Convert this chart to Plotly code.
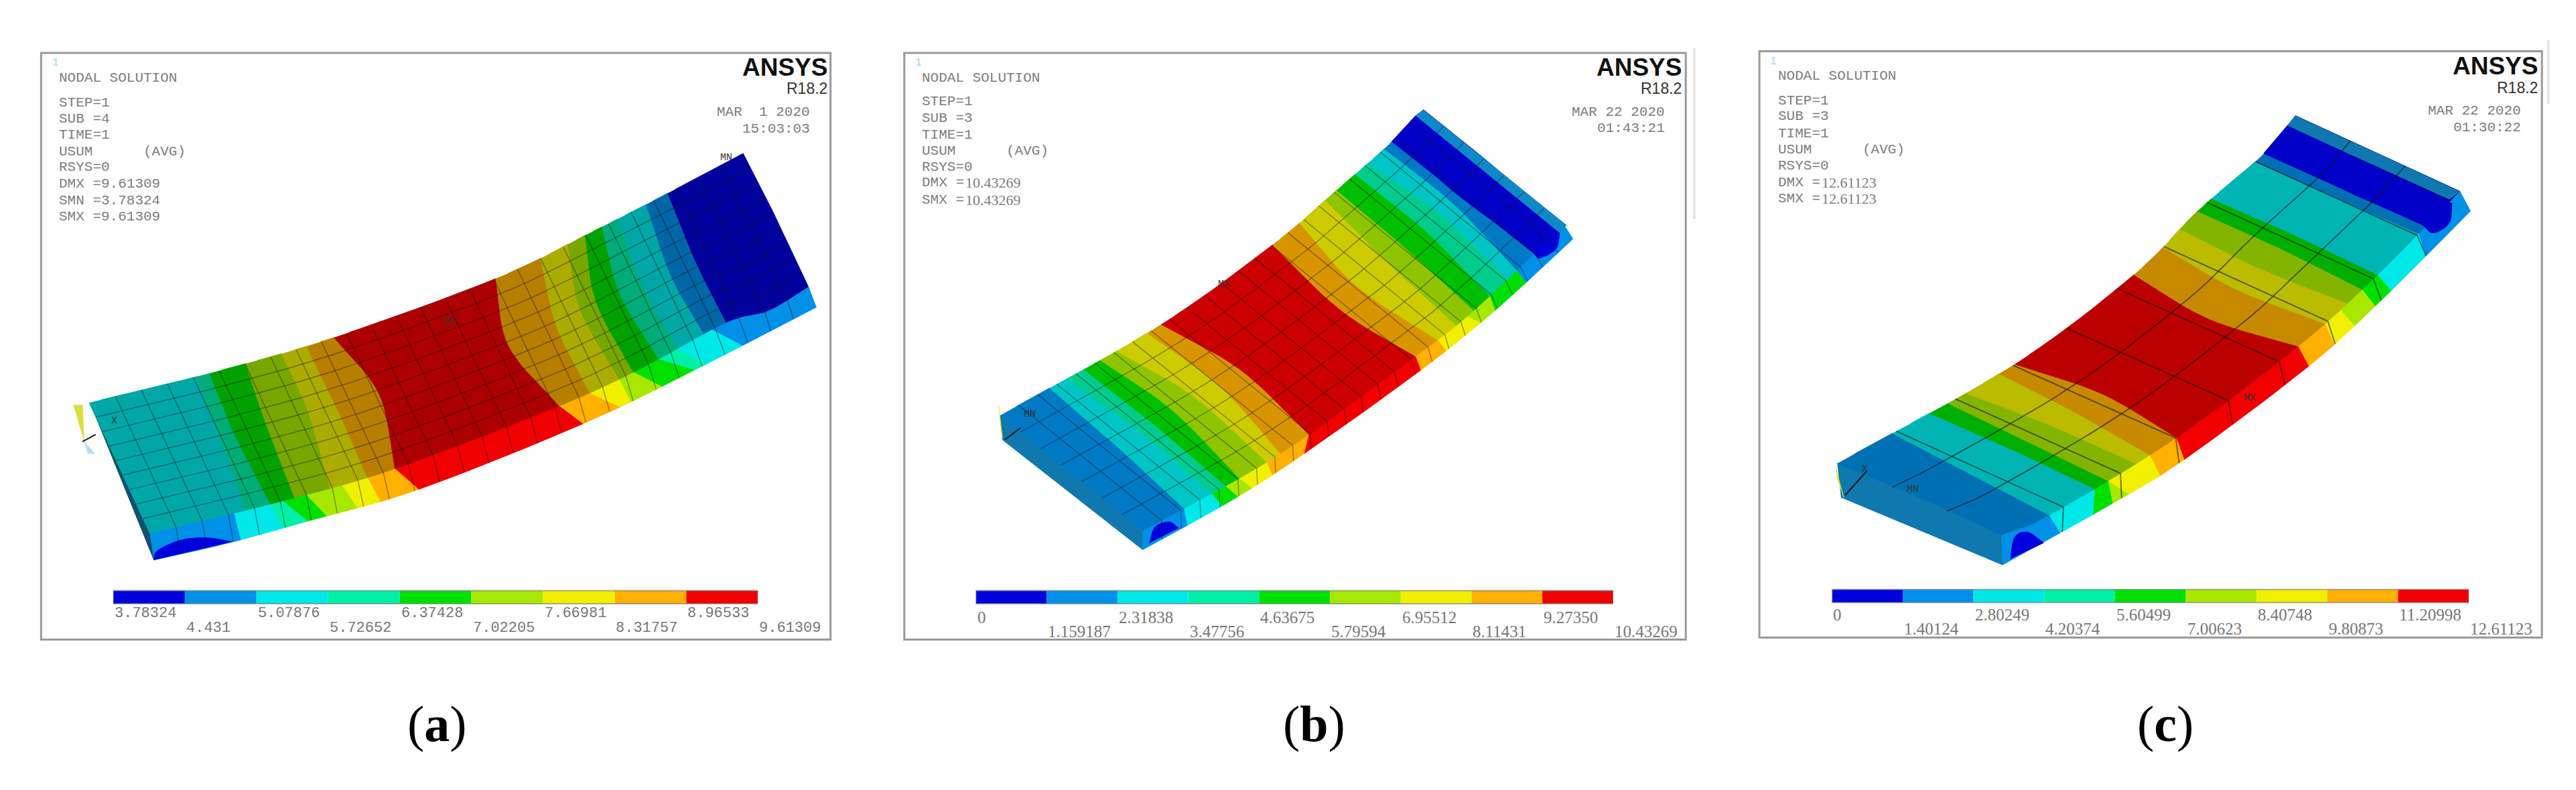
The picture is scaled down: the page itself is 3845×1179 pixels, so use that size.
import numpy as np
import plotly.graph_objects as go

# contour levels printed under each panel
A_LABELS = ['3.78324', '4.431', '5.07876', '5.72652', '6.37428', '7.02205', '7.66981', '8.31757', '8.96533', '9.61309']
B_LABELS = ['0', '1.159187', '2.31838', '3.47756', '4.63675', '5.79594', '6.95512', '8.11431', '9.27350', '10.43269']
C_LABELS = ['0', '1.40124', '2.80249', '4.20374', '5.60499', '7.00623', '8.40748', '9.80873', '11.20998', '12.61123']

A_INFO = ['NODAL SOLUTION', 'STEP=1', 'SUB =4', 'TIME=1', 'USUM      (AVG)', 'RSYS=0', 'DMX =9.61309', 'SMN =3.78324', 'SMX =9.61309']
B_INFO = ['NODAL SOLUTION', 'STEP=1', 'SUB =3', 'TIME=1', 'USUM      (AVG)', 'RSYS=0', 'DMX =10.43269', 'SMX =10.43269']
C_INFO = ['NODAL SOLUTION', 'STEP=1', 'SUB =3', 'TIME=1', 'USUM      (AVG)', 'RSYS=0', 'DMX =12.61123', 'SMX =12.61123']
A_DATE = ['MAR  1 2020', '15:03:03']
B_DATE = ['MAR 22 2020', '01:43:21']
C_DATE = ['MAR 22 2020', '01:30:22']

# beam outlines (crop coordinates, 1568 x 1568 per panel)
A_TOP_EDGE = [(118, 912), (345, 838), (580, 748), (885, 600), (1070, 480), (1210, 385), (1352, 285)]
A_LOW_EDGE = [(232, 1240), (460, 1167), (695, 1078), (1005, 920), (1160, 825), (1320, 710), (1400, 680), (1475, 620)]
A_OUT_EDGE = [(240, 1308), (390, 1262), (530, 1210), (740, 1130), (1050, 965), (1260, 830), (1490, 672)]
# contour borders on the upper face: upper edge, middle, lower edge
A_BORDERS = [
    [(118, 912), (175, 1075), (232, 1240)], [(320, 846), (365, 1000), (425, 1178)], [(350, 835), (390, 985), (460, 1167)],
    [(410, 815), (450, 960), (510, 1145)], [(490, 783), (530, 930), (570, 1125)], [(530, 768), (585, 925), (640, 1100)],
    [(580, 748), (665, 890), (695, 1078)], [(885, 600), (910, 770), (1005, 920)], [(975, 540), (1000, 720), (1065, 885)],
    [(1020, 512), (1045, 680), (1120, 855)], [(1045, 495), (1075, 660), (1150, 830)], [(1085, 470), (1120, 640), (1190, 800)],
    [(1120, 445), (1160, 610), (1230, 770)], [(1165, 415), (1215, 590), (1270, 745)], [(1212, 385), (1260, 550), (1320, 710)],
    [(1352, 285), (1415, 450), (1475, 620)],
]
A_BANDS = [2, 3, 4, 5, 6, 7, 8, 7, 6, 5, 4, 3, 2, 1, 0]
A_SIDE = [
    [(232, 1240), (240, 1308)], [(385, 1190), (400, 1258)], [(455, 1167), (490, 1225)], [(480, 1155), (530, 1210)],
    [(530, 1135), (565, 1195)], [(590, 1118), (620, 1175)], [(640, 1100), (670, 1150)], [(695, 1078), (740, 1130)],
    [(1005, 920), (1052, 965)], [(1060, 885), (1110, 930)], [(1115, 855), (1150, 905)], [(1150, 830), (1200, 868)],
    [(1190, 800), (1250, 835)], [(1225, 770), (1270, 820)], [(1290, 725), (1345, 770)], [(1475, 620), (1490, 672)],
]
A_SIDE_BANDS = [1, 2, 3, 4, 5, 6, 7, 8, 7, 6, 5, 4, 3, 2, 1]

B_TOP_EDGE = [(205, 945), (510, 715), (720, 515), (830, 390), (940, 262), (1005, 175)]
B_LOW_EDGE = [(475, 1235), (735, 1040), (990, 795), (1100, 680), (1270, 465)]
B_OUT_EDGE = [(475, 1282), (640, 1160), (780, 1040), (1000, 830), (1140, 680), (1287, 500)]
B_BORDERS = [
    [(205, 945), (340, 1090), (475, 1235)], [(298, 872), (425, 1020), (555, 1175)], [(340, 840), (470, 985), (600, 1140)],
    [(362, 818), (490, 960), (625, 1120)], [(395, 795), (530, 930), (660, 1092)], [(435, 770), (570, 895), (700, 1060)],
    [(470, 745), (620, 870), (735, 1040)], [(510, 715), (660, 830), (778, 1005)], [(720, 515), (850, 680), (990, 795)],
    [(770, 460), (880, 620), (1035, 755)], [(815, 408), (930, 550), (1070, 715)], [(838, 380), (960, 510), (1100, 680)],
    [(880, 330), (1005, 475), (1130, 640)], [(900, 305), (1040, 440), (1160, 605)], [(925, 275), (1060, 410), (1190, 570)],
    [(945, 255), (1075, 395), (1212, 535)], [(1005, 175), (1140, 320), (1270, 465)],
]
B_BANDS = [1, 2, 3, 4, 5, 6, 7, 8, 7, 6, 5, 4, 3, 2, 1, 0]
B_SIDE = [
    [(475, 1235), (475, 1282)], [(555, 1175), (562, 1222)], [(600, 1140), (625, 1188)], [(625, 1120), (655, 1150)],
    [(660, 1092), (680, 1130)], [(700, 1060), (725, 1095)], [(735, 1040), (745, 1075)], [(778, 1005), (780, 1040)],
    [(990, 795), (1000, 830)], [(1035, 755), (1045, 785)], [(1095, 690), (1110, 720)], [(1125, 650), (1140, 680)],
    [(1180, 575), (1195, 610)], [(1270, 465), (1287, 500)],
]
B_SIDE_BANDS = [1, 2, 4, 5, 6, 7, 7, 8, 7, 6, 5, 4, 1]

C_TOP_EDGE = [(180, 1065), (515, 815), (740, 590), (860, 430), (990, 280), (1045, 190)]
C_LOW_EDGE = [(490, 1245), (580, 1195), (820, 1000), (1050, 770), (1200, 590), (1355, 380)]
C_OUT_EDGE = [(492, 1320), (700, 1165), (835, 1055), (1070, 820), (1210, 650), (1375, 430)]
C_BORDERS = [
    [(180, 1065), (335, 1150), (490, 1245)], [(280, 990), (430, 1090), (575, 1190)], [(345, 945), (510, 1030), (650, 1130)],
    [(385, 915), (530, 1005), (678, 1095)], [(420, 880), (575, 965), (735, 1055)], [(470, 850), (620, 930), (765, 1040)],
    [(515, 815), (680, 890), (820, 1000)], [(740, 590), (880, 700), (1050, 770)], [(795, 515), (930, 625), (1100, 705)],
    [(830, 470), (970, 570), (1135, 660)], [(865, 430), (1010, 520), (1165, 620)], [(890, 400), (1035, 485), (1190, 590)],
    [(965, 300), (1130, 400), (1270, 490)], [(985, 285), (1150, 385), (1295, 465)], [(1045, 190), (1200, 285), (1355, 380)],
]
C_BANDS = [1, 2, 4, 5, 6, 7, 8, 7, 6, 5, 4, 2, 1, 0]
C_SIDE = [
    [(490, 1245), (492, 1320)], [(580, 1195), (600, 1245)], [(650, 1130), (670, 1185)], [(678, 1095), (700, 1165)],
    [(690, 1085), (720, 1140)], [(730, 1060), (770, 1105)], [(770, 1035), (780, 1090)], [(820, 1000), (832, 1055)],
    [(1050, 770), (1070, 820)], [(1100, 705), (1120, 755)], [(1130, 665), (1150, 720)], [(1165, 620), (1190, 670)],
    [(1190, 590), (1225, 635)], [(1270, 490), (1290, 540)], [(1355, 380), (1375, 430)],
]
C_SIDE_BANDS = [1, 2, 4, 5, 6, 6, 7, 8, 7, 6, 5, 4, 2, 1]

LEVEL_COLORS = ['#0000DC', '#0090E8', '#00E8E8', '#00F0A8', '#00E000', '#A8E800', '#F0F000', '#FFB000', '#F00000']


def shade(hexcol, f):
    r, g, b = [int(hexcol[i:i + 2], 16) for i in (1, 3, 5)]
    return f'rgb({int(r * f)},{int(g * f)},{int(b * f)})'


def smooth(pts, n=10):
    # Catmull-Rom through the read points, so outlines are not kinked
    p = np.array(pts, dtype=float)
    p = np.vstack([2 * p[0] - p[1], p, 2 * p[-1] - p[-2]])
    out = []
    for i in range(1, len(p) - 2):
        for t in np.linspace(0, 1, n, endpoint=False):
            out.append(0.5 * (2 * p[i] + (p[i + 1] - p[i - 1]) * t
                              + (2 * p[i - 1] - 5 * p[i] + 4 * p[i + 1] - p[i + 2]) * t ** 2
                              + (3 * p[i] - p[i - 1] - 3 * p[i + 1] + p[i + 2]) * t ** 3))
    out.append(p[-2])
    return [tuple(q) for q in out]


def snap(pt, edge):
    e = np.array(edge)
    return tuple(e[np.argmin(np.hypot(e[:, 0] - pt[0], e[:, 1] - pt[1]))])


def between(edge, p, q):
    # edge points that lie between the two ends of a band
    lo, hi = sorted((p[0], q[0]))
    return [e for e in edge if lo < e[0] < hi]


def along(edge, u):
    e = np.array(edge, dtype=float)
    d = np.r_[0, np.cumsum(np.hypot(*np.diff(e, axis=0).T))]
    d = d / d[-1]
    return np.interp(u, d, e[:, 0]), np.interp(u, d, e[:, 1])


fig = go.Figure()
W, H = 3845, 1179
CROP = 1568
annotations = []
shapes = []
layout_axes = {}


def poly(pts, color, xa, ya):
    fig.add_trace(go.Scatter(x=[p[0] for p in pts], y=[p[1] for p in pts], mode='lines', fill='toself',
                             fillcolor=color, line=dict(color=color, width=1), hoverinfo='skip', xaxis=xa, yaxis=ya))


def note(text, x, y, xa, ya, font, size, color, anchor='left'):
    annotations.append(dict(text=text, x=x, y=y, xref=xa, yref=ya, showarrow=False, xanchor=anchor, yanchor='middle',
                            font=dict(family=font, size=size, color=color)))


def panel(n, x0, cfg):
    xa, ya = ('x', 'y') if n == 0 else (f'x{n + 1}', f'y{n + 1}')
    xl = f'x{n + 4}'
    top, low, out = smooth(cfg['top']), smooth(cfg['low']), smooth(cfg['out'])
    layout_axes['xaxis' if n == 0 else f'xaxis{n + 1}'] = dict(domain=[x0 / W, (x0 + 1240) / W], range=[0, CROP], visible=False)
    layout_axes['yaxis' if n == 0 else f'yaxis{n + 1}'] = dict(domain=[1 - 990 / H, 1 - 60 / H], range=[CROP, 0], visible=False)
    sx0, sx1, sy0, sy1 = cfg['strip']
    layout_axes[f'xaxis{n + 4}'] = dict(domain=[(x0 + sx0 * 1240 / CROP) / W, (x0 + sx1 * 1240 / CROP) / W],
                                        range=[float(cfg['labels'][0]), float(cfg['labels'][-1])],
                                        visible=False, anchor=ya)

    # dark end face
    for pts, col in cfg['ends']:
        poly(pts, col, xa, ya)
    # side face, full colours
    st = [(snap(a, low), snap(b, out)) for a, b in cfg['side']]
    for i, c in enumerate(cfg['side_bands']):
        a, b = st[i], st[i + 1]
        pts = [a[0]] + between(low, a[0], b[0]) + [b[0], b[1]] + between(out, a[1], b[1])[::-1] + [a[1]]
        poly(pts, LEVEL_COLORS[c], xa, ya)
    # upper face, shaded colours
    bd = [smooth([snap(b[0], top), b[1], snap(b[2], low)]) for b in cfg['borders']]
    for i, c in enumerate(cfg['bands']):
        a, b = bd[i], bd[i + 1]
        pts = list(a) + between(low, a[-1], b[-1]) + list(b[::-1]) + between(top, a[0], b[0])[::-1]
        poly(pts, shade(LEVEL_COLORS[c], cfg['shade']), xa, ya)
    for pts, col in cfg['extras']:
        poly(pts, col, xa, ya)
    for pts, col in cfg['arcs']:
        poly(smooth(pts), col, xa, ya)

    # mesh
    mx, my = [], []
    for v in np.linspace(0, 1, cfg['nlong'] + 2)[1:-1]:
        u = np.linspace(0, 1, 40)
        tx, ty = along(top, u)
        lx, ly = along(low, u)
        mx += list(tx + (lx - tx) * v) + [None]
        my += list(ty + (ly - ty) * v) + [None]
    for u in np.linspace(0, 1, cfg['ncross'] + 2)[1:-1]:
        tx, ty = along(top, u)
        lx, ly = along(low, u)
        ox, oy = along(out, u)
        mx += [tx, lx, ox, None]
        my += [ty, ly, oy, None]
    fig.add_trace(go.Scatter(x=mx, y=my, mode='lines', line=dict(color=cfg['mesh_color'], width=cfg['mesh_width']),
                             hoverinfo='skip', xaxis=xa, yaxis=ya))
    for pts in cfg['triad']:
        fig.add_trace(go.Scatter(x=[p[0] for p in pts], y=[p[1] for p in pts], mode='lines',
                                 line=dict(color='#1a1a1a', width=2), hoverinfo='skip', xaxis=xa, yaxis=ya))

    # contour legend, bars on the level scale
    lv = [float(s) for s in cfg['labels']]
    fig.add_trace(go.Bar(y=[(sy0 + sy1) / 2] * 9, x=np.diff(lv), base=lv[:-1], orientation='h', width=sy1 - sy0,
                         marker=dict(color=LEVEL_COLORS, line=dict(width=0)), hoverinfo='skip', xaxis=xl, yaxis=ya))
    shapes.append(dict(type='rect', xref=xl, yref=ya, x0=lv[0], x1=lv[-1], y0=sy0, y1=sy1,
                       line=dict(color='rgba(120,120,120,0.6)', width=2)))
    r1, r2 = cfg['rows']
    for i, s in enumerate(cfg['labels']):
        note(s, lv[i], r2 if i % 2 else r1, xl, ya, cfg['legend_font'], cfg['legend_size'], '#777777')

    # frame and header text
    f = cfg['frame']
    shapes.append(dict(type='rect', xref=xa, yref=ya, x0=f[0], x1=f[2], y0=f[1], y1=f[3], line=dict(color='#9a9a9a', width=3)))
    for g in cfg['ghost']:
        shapes.append(dict(type='line', xref=xa, yref=ya, x0=g[0], x1=g[0], y0=g[1], y1=g[2], line=dict(color='#e4e4e4', width=4)))
    note('1', f[0] + 18, f[1] + 26, xa, ya, 'Liberation Mono', 16, '#9fd8e8')
    tx, rows = cfg['info_x'], cfg['info_y']
    for s, y in zip(cfg['info'], rows):
        if s.startswith(('DMX', 'SMX')) and n > 0:
            # value part is set in a serif face in panels b and c
            note(s[:5].replace(' ', '&nbsp;'), tx, y, xa, ya, 'Liberation Mono', 21, '#7d7d7d')
            note(s[5:], tx + 82, y, xa, ya, 'Liberation Serif', 22, '#7d7d7d')
        else:
            note(s.replace(' ', '&nbsp;'), tx, y, xa, ya, 'Liberation Mono', 21, '#7d7d7d')
    rx, dy = cfg['brand']
    note('<b>ANSYS</b>', rx, dy, xa, ya, 'Liberation Sans', 37, '#111111', 'right')
    note('R18.2', rx, dy + 54, xa, ya, 'Liberation Sans', 23, '#333333', 'right')
    for s, y in zip(cfg['date'], cfg['date_y']):
        note(s.replace(' ', '&nbsp;'), rx - 32, y, xa, ya, 'Liberation Mono', 21, '#7d7d7d', 'right')
    for s, x, y in cfg['marks']:
        note(s, x, y, xa, ya, 'Liberation Mono', 15, '#333333', 'center')


panel(0, 40, dict(
    top=A_TOP_EDGE, low=A_LOW_EDGE, out=A_OUT_EDGE, borders=A_BORDERS, bands=A_BANDS, side=A_SIDE, side_bands=A_SIDE_BANDS,
    shade=0.72, nlong=8, ncross=26, mesh_color='rgba(20,20,20,0.42)', mesh_width=1.4, ghost=[],
    labels=A_LABELS, info=A_INFO, date=A_DATE,
    strip=(163, 1380, 1385, 1418), rows=(1442, 1480), legend_font='Liberation Mono', legend_size=22,
    frame=(27, 32, 1517, 1508), info_x=58, info_y=[95, 157, 198, 239, 280, 320, 362, 403, 444], brand=(1513, 68), date_y=[182, 224],
    ends=[([(118, 912), (232, 1240), (240, 1308), (125, 930)], '#12506e')],
    extras=[([(88, 918), (105, 918), (108, 1010)], '#d8e040'), ([(108, 1010), (128, 1040), (115, 1040)], '#b8ddf0')],
    arcs=[([(240, 1308), (246, 1285), (290, 1258), (340, 1252), (388, 1262)], '#0000DC')],
    triad=[[(105, 1010), (130, 992)]], marks=[('X', 165, 958), ('MX', 800, 708), ('MN', 1320, 296)]))
panel(1, 1330, dict(
    top=B_TOP_EDGE, low=B_LOW_EDGE, out=B_OUT_EDGE, borders=B_BORDERS, bands=B_BANDS, side=B_SIDE, side_bands=B_SIDE_BANDS,
    shade=0.85, nlong=6, ncross=24, mesh_color='rgba(20,20,20,0.42)', mesh_width=1.4, ghost=[(1516, 20, 450)],
    labels=B_LABELS, info=B_INFO, date=B_DATE,
    strip=(160, 1363, 1385, 1418), rows=(1452, 1488), legend_font='Liberation Serif', legend_size=25,
    frame=(25, 32, 1500, 1508), info_x=56, info_y=[95, 155, 197, 238, 279, 319, 359, 402], brand=(1495, 68), date_y=[182, 222],
    ends=[([(205, 945), (475, 1235), (475, 1282), (210, 1005)], '#0f78ae')],
    extras=[([(1005, 175), (990, 190), (1262, 485), (1275, 465)], '#0f88c8'),
            ([(990, 190), (945, 255), (1212, 535), (1262, 485)], '#0000C8'),
            ([(203, 918), (210, 1000), (205, 945)], '#e2e020')],
    arcs=[([(1212, 535), (1225, 548), (1255, 525), (1262, 485)], '#0000DC'),
          ([(488, 1265), (498, 1225), (525, 1212), (543, 1228)], '#0000DC')],
    triad=[[(215, 1005), (245, 975)]], marks=[('MN', 262, 942), ('MX', 628, 615)]))
panel(2, 2600, dict(
    top=C_TOP_EDGE, low=C_LOW_EDGE, out=C_OUT_EDGE, borders=C_BORDERS, bands=C_BANDS, side=C_SIDE, side_bands=C_SIDE_BANDS,
    shade=0.78, nlong=2, ncross=8, mesh_color='rgba(20,20,20,0.6)', mesh_width=1.8, ghost=[(1522, 0, 160)],
    labels=C_LABELS, info=C_INFO, date=C_DATE,
    strip=(170, 1372, 1382, 1415), rows=(1445, 1482), legend_font='Liberation Serif', legend_size=25,
    frame=(33, 28, 1510, 1503), info_x=66, info_y=[90, 152, 192, 235, 275, 316, 358, 398], brand=(1505, 65), date_y=[178, 220],
    ends=[([(180, 1065), (335, 1148), (490, 1245), (492, 1320), (187, 1150)], '#0f78ae')],
    extras=[([(1045, 190), (985, 285), (1030, 215), (1335, 400), (1355, 380)], '#0f78ae'),
            ([(1030, 215), (985, 285), (1285, 465), (1340, 410)], '#0000C8'),
            ([(177, 1075), (192, 1150), (180, 1100)], '#d8e020')],
    arcs=[([(1285, 465), (1305, 485), (1335, 460), (1340, 410)], '#0000C8'),
          ([(507, 1305), (515, 1250), (540, 1238), (570, 1265)], '#0000DC')],
    triad=[[(195, 1145), (235, 1085)]], marks=[('X', 232, 1080), ('MN', 322, 1130), ('MX', 958, 902)]))

# captions under the panels
for cap, px in zip(['a', 'b', 'c'], [652, 1962, 3232]):
    annotations.append(dict(text=f'(<b>{cap}</b>)', x=px / W, y=1 - 1080 / H, xref='paper', yref='paper', showarrow=False,
                            xanchor='center', yanchor='middle',
                            font=dict(family='Liberation Serif', size=76, color='#000000')))

fig.update_layout(width=W, height=H, margin=dict(l=0, r=0, t=0, b=0), showlegend=False, barmode='overlay',
                  paper_bgcolor='white', plot_bgcolor='rgba(0,0,0,0)', annotations=annotations, shapes=shapes, **layout_axes)
fig.write_html("out.html", config={'displayModeBar': False}, post_script="document.body.style.margin='0'")
